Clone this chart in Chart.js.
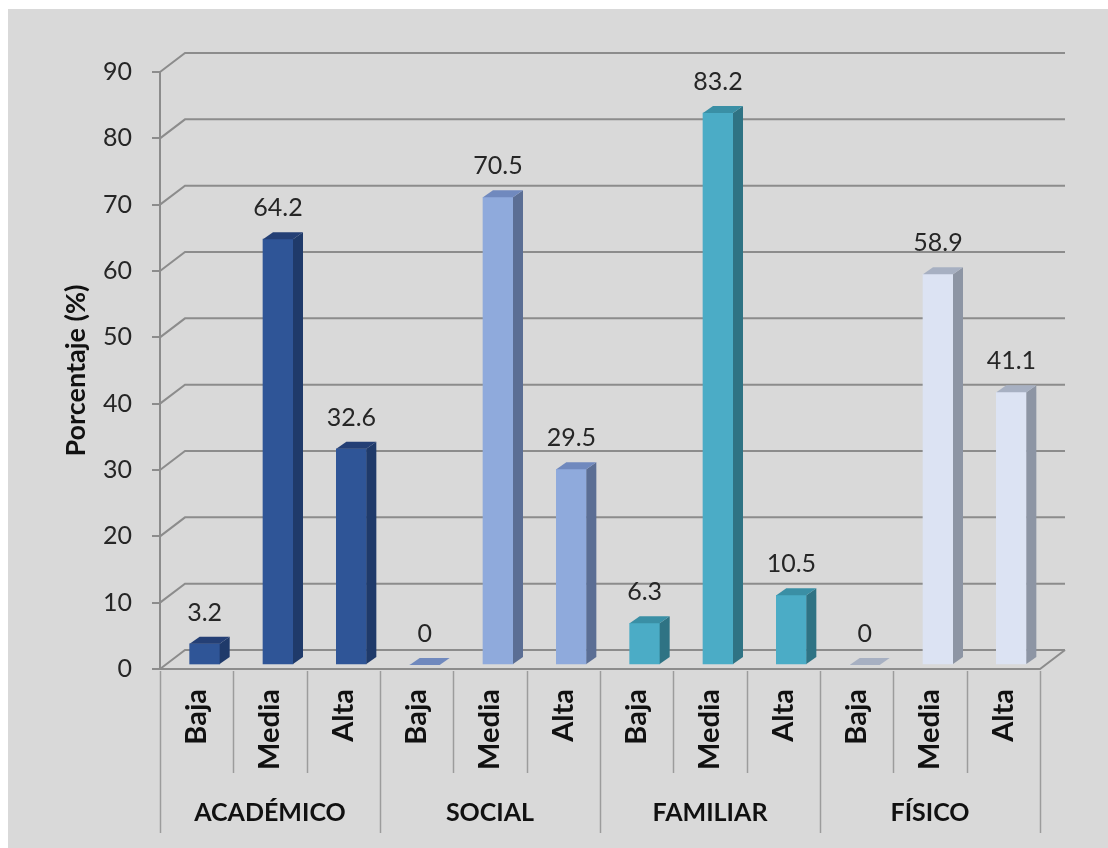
<!DOCTYPE html>
<html>
<head>
<meta charset="utf-8">
<script src="https://cdn.jsdelivr.net/npm/chart.js@4.4.1/dist/chart.umd.min.js"></script>
<style>
  html, body { margin: 0; padding: 0; background: #ffffff; }
  #wrap { width: 1108px; height: 848px; }
</style>
</head>
<body>
<div id="wrap"><canvas id="nivelChart" width="1108" height="848"></canvas></div>
<script>
// Datos del grafico
const niveles = ['Baja', 'Media', 'Alta', 'Baja', 'Media', 'Alta', 'Baja', 'Media', 'Alta', 'Baja', 'Media', 'Alta'];
const dimensiones = ['ACADÉMICO', 'SOCIAL', 'FAMILIAR', 'FÍSICO'];
const porcentajes = [3.2, 64.2, 32.6, 0, 70.5, 29.5, 6.3, 83.2, 10.5, 0, 58.9, 41.1];
const yTicks = [0, 10, 20, 30, 40, 50, 60, 70, 80, 90];

// colores por dimension: frente, lado, tapa
const frente = ['#2F5597', '#8FAADC', '#4BACC6', '#DCE3F3'];
const lado = ['#1F3A6A', '#5B6E94', '#2F7384', '#8D95A4'];
const tapa = ['#243F75', '#7089BE', '#3A8FA5', '#A7B0C2'];

const FONT = 'Lato';
const GRID = '#8c8c8c';
const DX = 25, DY = -19;       // profundidad de la pared del fondo
const BX = 8, BY = -4;         // desplazamiento de las barras
const SX = 10, SY = -7;        // profundidad de cada barra

const barColors = porcentajes.map((v, i) => frente[Math.floor(i / 3)]);

const efecto3d = {
  id: 'efecto3d',
  beforeDraw(chart) {
    const c = chart.ctx;
    c.save();
    c.fillStyle = '#ffffff';
    c.fillRect(0, 0, chart.width, chart.height);
    c.fillStyle = '#D9D9D9';
    c.fillRect(8, 9, chart.width - 8, chart.height - 9);
    c.restore();
  },
  beforeDatasetsDraw(chart) {
    const c = chart.ctx;
    const a = chart.chartArea;
    const y = chart.scales.y;
    c.save();
    c.strokeStyle = GRID;
    c.lineWidth = 2;
    yTicks.forEach(v => {
      const py = y.getPixelForValue(v);
      c.beginPath();
      c.moveTo(a.left, py);
      c.lineTo(a.left + DX, py + DY);
      c.lineTo(a.right + DX, py + DY);
      c.stroke();
    });
    // piso
    const p0 = y.getPixelForValue(0);
    c.beginPath();
    c.moveTo(a.left, p0);
    c.lineTo(a.right, p0);
    c.lineTo(a.right + DX, p0 + DY);
    c.stroke();
    c.restore();

    c.save();
    c.translate(BX, BY);
  },
  afterDatasetsDraw(chart) {
    const c = chart.ctx;
    const meta = chart.getDatasetMeta(0);
    meta.data.forEach((bar, i) => {
      const g = Math.floor(i / 3);
      const half = bar.width / 2;
      const x0 = bar.x - half, x1 = bar.x + half;
      const top = bar.y, base = bar.base;
      // lado
      c.fillStyle = lado[g];
      c.beginPath();
      c.moveTo(x1, top);
      c.lineTo(x1 + SX, top + SY);
      c.lineTo(x1 + SX, base + SY);
      c.lineTo(x1, base);
      c.closePath();
      c.fill();
      // tapa
      c.fillStyle = tapa[g];
      c.beginPath();
      c.moveTo(x0, top);
      c.lineTo(x0 + SX, top + SY);
      c.lineTo(x1 + SX, top + SY);
      c.lineTo(x1, top);
      c.closePath();
      c.fill();
      // etiqueta de valor
      c.fillStyle = '#262626';
      c.font = '25px ' + FONT;
      c.textAlign = 'center';
      c.textBaseline = 'alphabetic';
      c.fillText(String(porcentajes[i]), bar.x, top - 23);
    });
    c.restore();
  },
  afterDraw(chart) {
    const c = chart.ctx;
    const x = chart.scales.x;
    const p0 = chart.scales.y.getPixelForValue(0);
    const step = x.getPixelForValue(1) - x.getPixelForValue(0);
    c.save();
    c.strokeStyle = '#9c9c9c';
    c.lineWidth = 1.5;
    for (let i = 0; i <= niveles.length; i++) {
      const px = Math.round(x.getPixelForValue(i) - step / 2) + 0.5;
      const fin = (i % 3 === 0) ? 833 : 773;
      c.beginPath();
      c.moveTo(px, p0 + 2);
      c.lineTo(px, fin);
      c.stroke();
    }
    c.fillStyle = '#111111';
    c.font = 'bold 25px ' + FONT;
    c.textAlign = 'center';
    c.textBaseline = 'middle';
    dimensiones.forEach((d, g) => {
      c.fillText(d, x.getPixelForValue(g * 3 + 1), 813);
    });
    c.restore();
  }
};

const ctxNivel = document.getElementById('nivelChart').getContext('2d');
const nivelChart = new Chart(ctxNivel, {
  type: 'bar',
  data: {
    labels: niveles,
    datasets: [
      {
        label: 'Porcentaje',
        data: porcentajes,
        backgroundColor: barColors,
        borderWidth: 0,
        barThickness: 30,
      },
    ],
  },
  options: {
    responsive: false,
    animation: false,
    layout: {
      padding: { top: 72, right: 68, bottom: 0, left: 52 },
    },
    plugins: {
      legend: { display: false },
      tooltip: { enabled: false },
    },
    scales: {
      x: {
        grid: { display: false, drawTicks: false },
        border: { display: false },
        ticks: {
          minRotation: 90,
          maxRotation: 90,
          autoSkip: false,
          padding: 20,
          color: '#111111',
          font: { family: FONT, size: 29, weight: 'bold' },
        },
        afterFit(s) { s.height = 848 - 669; },
      },
      y: {
        min: 0,
        max: 90,
        ticks: {
          stepSize: 10,
          padding: 20,
          color: '#262626',
          font: { family: FONT, size: 25 },
        },
        grid: {
          drawOnChartArea: false,
          drawTicks: true,
          tickLength: 8,
          color: GRID,
          lineWidth: 2,
        },
        border: { color: GRID, width: 2 },
        title: {
          display: true,
          text: 'Porcentaje (%)',
          color: '#111111',
          padding: { top: 8, bottom: 0 },
          font: { family: FONT, size: 27, weight: 'bold' },
        },
        afterFit(s) { s.width = 160 - 52; },
      },
    },
  },
  plugins: [efecto3d],
});
</script>
</body>
</html>
